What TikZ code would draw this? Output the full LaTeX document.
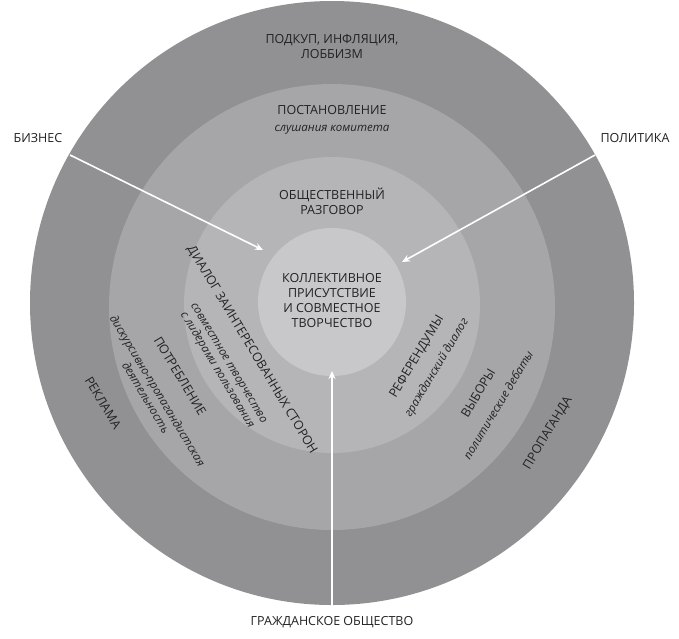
\documentclass[tikz,border=0pt]{standalone}
\usepackage{fontspec}
\setmainfont{Open Sans}
\usetikzlibrary{arrows.meta}
\definecolor{c1}{HTML}{919193}
\definecolor{c2}{HTML}{A6A6A8}
\definecolor{c3}{HTML}{B5B5B7}
\definecolor{c4}{HTML}{C8C8CA}
\definecolor{tx}{HTML}{222222}
\begin{document}
\begin{tikzpicture}[x=1pt,y=-1pt,
  lab/.style={text=tx,font=\fontsize{12.5}{15}\selectfont,align=center,inner sep=0},
  sub/.style={font=\fontsize{11.5}{13.5}\selectfont\itshape},
  arr/.style={white,line width=1.6pt,-{Stealth[length=8pt,width=7pt]}}]
\useasboundingbox (0,0) rectangle (679,638);
\fill[white] (0,0) rectangle (679,638);
\fill[c1] (332,303) circle[radius=302];
\fill[c2] (332,307) circle[radius=223];
\fill[c3] (332,305) circle[radius=148];
\fill[c4] (332,302) circle[radius=74];
\node[lab] (t1) at (332,47) {ПОДКУП, ИНФЛЯЦИЯ,\\ЛОББИЗМ};
\node[lab] (t2) at (332,110) {ПОСТАНОВЛЕНИЕ};
\node[lab,sub] (t2s) at (332,130) {слушания комитета};
\node[lab] (t3) at (332,201) {ОБЩЕСТВЕННЫЙ\\РАЗГОВОР};
\node[lab] (c) at (332,301) {КОЛЛЕКТИВНОЕ\\ПРИСУТСТВИЕ\\И СОВМЕСТНОЕ\\ТВОРЧЕСТВО};
\node[lab] (biz) at (38,138) {БИЗНЕС};
\node[lab] (pol) at (635,138) {ПОЛИТИКА};
\node[lab] (gr) at (332,622) {ГРАЖДАНСКОЕ ОБЩЕСТВО};
\node[lab,rotate=-59] (d) at (252,350) {ДИАЛОГ ЗАИНТЕРЕСОВАННЫХ СТОРОН};
\node[lab,sub,rotate=-59] (ds) at (222,367) {совместное творчество\\с лидерами пользования};
\node[lab,rotate=-59] (p) at (180,376) {ПОТРЕБЛЕНИЕ};
\node[lab,sub,rotate=-59] (ps) at (152,394) {дискурсивно-пропагандистская\\деятельность};
\node[lab,rotate=-59] (r) at (103,403) {РЕКЛАМА};
\node[lab,rotate=59] (ref) at (417,357) {РЕФЕРЕНДУМЫ};
\node[lab,sub,rotate=59] (refs) at (437,368) {гражданский диалог};
\node[lab,rotate=59] (v) at (478,393) {ВЫБОРЫ};
\node[lab,sub,rotate=59] (vs) at (498,405) {политические дебаты};
\node[lab,rotate=59] (pr) at (548,433) {ПРОПАГАНДА};
\coordinate (a1) at (70,155); \coordinate (b1) at (263,250);
\coordinate (a2) at (595,155); \coordinate (b2) at (402,262);
\coordinate (a3) at (332,608); \coordinate (b3) at (332,371);
\draw[arr] (a1) -- (b1);
\draw[arr] (a2) -- (b2);
\draw[arr] (a3) -- (b3);
\end{tikzpicture}
\end{document}
